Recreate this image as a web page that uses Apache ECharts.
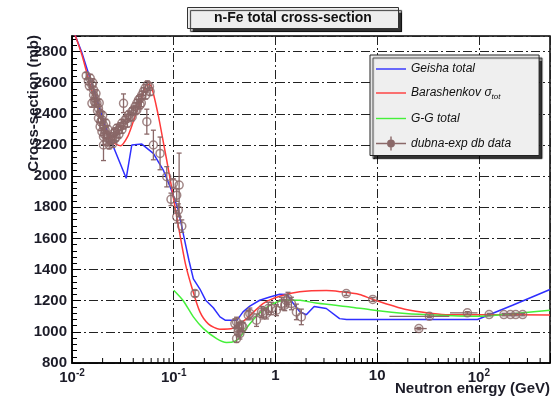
<!DOCTYPE html>
<html>
<head>
<meta charset="utf-8">
<script src="https://cdn.jsdelivr.net/npm/echarts@6.0.0/dist/echarts.min.js"></script>
<style>
  html, body { margin: 0; padding: 0; background: #fff; }
  #chart { width: 551px; height: 401px; }
</style>
</head>
<body>
<div id="chart"></div>
<script>
// Neutron–iron total cross-section: model curves and measured points (E in GeV, sigma in mb)

const geishaE = [0.01, 0.0107, 0.0124, 0.015, 0.018, 0.021, 0.0246, 0.0341, 0.0387, 0.0486, 0.063, 0.079, 0.095, 0.111, 0.125, 0.141, 0.156, 0.181, 0.205, 0.245, 0.285, 0.32, 0.42, 0.48, 0.56, 0.70, 0.88, 1.10, 1.30, 1.43, 1.73, 2.01, 2.40, 3.16, 4.27, 5.0, 97, 214, 500];
const geishaV = [2955, 2907, 2800, 2630, 2470, 2330, 2215, 1986, 2200, 2206, 2146, 2039, 1910, 1782, 1620, 1460, 1340, 1275, 1205, 1155, 1096, 1075, 1075, 1128, 1165, 1203, 1224, 1242, 1240, 1200, 1130, 1110, 1163, 1150, 1085, 1079, 1079, 1171, 1272];

const barashE = [0.01, 0.0125, 0.015, 0.018, 0.021, 0.025, 0.03, 0.035, 0.04, 0.047, 0.055, 0.06, 0.07, 0.08, 0.09, 0.1, 0.113, 0.13, 0.15, 0.181, 0.22, 0.284, 0.38, 0.52, 0.755, 1.1, 1.73, 3.16, 4.3, 6.7, 9.05, 19.2, 35, 51, 100, 500];
const barashV = [2960, 2780, 2590, 2430, 2310, 2220, 2195, 2250, 2350, 2480, 2590, 2580, 2400, 2200, 2020, 1850, 1653, 1440, 1290, 1128, 1050, 1017, 1023, 1085, 1182, 1229, 1257, 1265, 1258, 1240, 1208, 1143, 1118, 1110, 1110, 1108];

const ggE = [0.1, 0.124, 0.156, 0.196, 0.264, 0.33, 0.40, 0.45, 0.52, 0.65, 0.81, 1.02, 1.3, 1.75, 2.5, 3.7, 5.4, 9, 19, 41, 97, 180, 500];
const ggV = [1267, 1200, 1096, 1021, 957, 932, 940, 967, 1025, 1100, 1155, 1190, 1205, 1203, 1185, 1172, 1160, 1140, 1118, 1107, 1100, 1112, 1139];

// measured points: energy, cross-section, symmetric error (mb)
const dubnaE = [
  0.0138, 0.0145, 0.0151, 0.0157, 0.0163, 0.0163, 0.0169, 0.0157, 0.0176, 0.0182,
  0.0189, 0.0182, 0.0197, 0.0204, 0.0189, 0.0212, 0.0197, 0.0220, 0.0204, 0.0229,
  0.0237, 0.0220, 0.0247, 0.0256, 0.0266, 0.0276, 0.0286, 0.0298, 0.0309, 0.0321,
  0.0333, 0.0346, 0.0359, 0.0373, 0.0387, 0.0402, 0.0417, 0.0434, 0.0450, 0.0467,
  0.0486, 0.0504, 0.0523, 0.0551, 0.0577, 0.0586, 0.0467, 0.0434, 0.0321, 0.0204,
  0.0148, 0.0160, 0.0166, 0.0172, 0.0178, 0.0185, 0.0192, 0.0200, 0.0208, 0.0215,
  0.0225, 0.0232, 0.0242, 0.0252, 0.0262, 0.0272, 0.0290, 0.0310, 0.0350, 0.0390,
  0.0420, 0.0480, 0.0530,
  0.0544, 0.0631, 0.0734, 0.0854, 0.0991, 0.113, 0.0940, 0.107, 0.107, 0.111, 0.120,
  0.162,
  0.399, 0.415, 0.430, 0.447, 0.464, 0.415, 0.430, 0.442, 0.481, 0.560, 0.540, 0.651,
  0.729, 0.756, 0.816, 0.850, 0.914, 1.023, 1.145, 1.234, 1.282, 1.329, 1.436, 1.607, 1.798,
  4.97, 9.05
];
const dubnaV = [
  2645, 2610, 2629, 2586, 2554, 2521, 2500, 2468, 2468, 2436,
  2404, 2371, 2361, 2328, 2318, 2296, 2285, 2264, 2253, 2243,
  2232, 2221, 2253, 2275, 2285, 2307, 2296, 2318, 2339, 2328,
  2361, 2371, 2393, 2382, 2414, 2425, 2446, 2468, 2489, 2500,
  2521, 2543, 2564, 2586, 2575, 2543, 2457, 2425, 2468, 2200,
  2580, 2600, 2480, 2530, 2420, 2470, 2350, 2390, 2270, 2340,
  2300, 2200, 2230, 2210, 2240, 2250, 2270, 2300, 2340, 2380,
  2420, 2470, 2520,
  2350, 2200, 2146, 1996, 1953, 1943, 1851, 1878, 1739, 1782, 1679,
  1246,
  1053, 1064, 1021, 989, 1040, 957, 999, 1031, 1031, 1118, 1107, 1075,
  1128, 1118, 1118, 1150, 1150, 1139, 1182, 1171, 1200, 1214, 1182, 1128, 1096,
  1246, 1208
];
const dubnaErr = [
  20, 20, 25, 25, 20, 20, 20, 25, 20, 25,
  20, 25, 20, 25, 25, 20, 25, 25, 50, 25,
  25, 25, 25, 25, 25, 25, 25, 25, 25, 25,
  25, 25, 25, 25, 25, 25, 25, 25, 25, 25,
  25, 25, 25, 25, 25, 25, 25, 25, 60, 100,
  25, 25, 25, 25, 25, 25, 25, 25, 25, 25,
  25, 25, 25, 25, 25, 25, 25, 25, 25, 25,
  25, 25, 25,
  80, 95, 105, 65, 30, 205, 40, 40, 40, 40, 40,
  20,
  30, 30, 35, 35, 30, 25, 30, 30, 30, 35, 30, 40,
  35, 35, 35, 40, 40, 35, 40, 35, 40, 40, 40, 50, 50,
  12, 12
];

// high-energy points with energy-bin widths: energy, cross-section, E low, E high
const binE = [25.7, 32.6, 77, 126, 176, 204, 230, 269];
const binV = [1021, 1100, 1122, 1111, 1111, 1111, 1111, 1111];
const binLo = [23.4, 13.2, 52, 120, 170, 198, 224, 262];
const binHi = [30.7, 51.2, 97, 132, 182, 210, 236, 276];

const xTickLabels = { '-2': ['10', '-2'], '-1': ['10', '-1'], '0': ['1', ''], '1': ['10', ''], '2': ['10', '2'] };

const FONT = '"Liberation Sans", Arial, Helvetica, sans-serif';
const BLUE = '#2f2fff';
const RED = '#ff3a3a';
const GREEN = '#45f03a';
const DATA_COLOR = '#8a6868';
const Y_MIN = 800, Y_MAX = 2900;

const LINE_ICON = 'path://M0,6.3H30V7.7H0Z';
const POINT_ICON = 'path://M0,6.3H11V7.7H0Z M19,6.3H30V7.7H19Z M14.3,0H15.7V3H14.3Z M14.3,11H15.7V14H14.3Z M11,7A4,4 0 1,1 19,7A4,4 0 1,1 11,7Z';

function zip(xs, ys) { return xs.map((x, i) => [x, ys[i]]); }

// rows: [E, sigma, sigma low, sigma high, E low, E high]
const pointRows = dubnaE.map((e, i) => [e, dubnaV[i], dubnaV[i] - dubnaErr[i], dubnaV[i] + dubnaErr[i], e, e])
  .concat(binE.map((e, i) => [e, binV[i], binV[i] - 8, binV[i] + 8, binLo[i], binHi[i]]));

// minor ticks of the logarithmic energy axis: 2..9 times each decade
const minorTicks = [];
for (let k = -2; k <= 2; k++) {
  for (let m = 2; m <= 9; m++) {
    const v = m * Math.pow(10, k);
    if (v < 500) minorTicks.push([v, Y_MIN]);
  }
}

const chart = echarts.init(document.getElementById('chart'), null, { renderer: 'canvas' });

const gridLine = { show: true, lineStyle: { color: '#222', width: 1, type: [9, 3, 2, 3] } };

chart.setOption({
  animation: false,
  backgroundColor: '#fff',
  title: {
    text: 'n-Fe total cross-section',
    left: 187, top: 7,
    padding: [4, 27, 4, 27],
    backgroundColor: '#eeeeee',
    borderColor: '#333', borderWidth: 1,
    shadowColor: 'rgba(0,0,0,0.8)', shadowOffsetX: 3, shadowOffsetY: 3, shadowBlur: 1,
    textStyle: { fontFamily: FONT, fontWeight: 'bold', fontSize: 14, color: '#111' }
  },
  legend: {
    orient: 'vertical',
    left: 370, top: 55,
    padding: [8, 28, 5, 6],
    itemGap: 12, itemWidth: 30, itemHeight: 14,
    selectedMode: false,
    backgroundColor: '#efefef',
    borderColor: '#222', borderWidth: 1,
    shadowColor: 'rgba(0,0,0,0.8)', shadowOffsetX: 3, shadowOffsetY: 3, shadowBlur: 1,
    data: [
      { name: 'Geisha total', icon: LINE_ICON, itemStyle: { color: BLUE, borderWidth: 0 } },
      { name: 'Barashenkov σtot', icon: LINE_ICON, itemStyle: { color: RED, borderWidth: 0 } },
      { name: 'G-G total', icon: LINE_ICON, itemStyle: { color: GREEN, borderWidth: 0 } },
      { name: 'dubna-exp db data', icon: POINT_ICON, itemStyle: { color: DATA_COLOR, borderWidth: 0 } }
    ],
    formatter: name => name === 'Barashenkov σtot' ? 'Barashenkov {sym|σ}{sub|tot}' : name,
    textStyle: {
      fontFamily: FONT, fontStyle: 'italic', fontSize: 12, color: '#111',
      rich: {
        sym: { fontFamily: FONT, fontSize: 12, color: '#111' },
        sub: { fontFamily: FONT, fontStyle: 'italic', fontSize: 8, color: '#111', padding: [7, 0, 0, 0] }
      }
    }
  },
  grid: {
    left: 72, right: 1, top: 36, bottom: 38,
    show: true, borderColor: '#000', borderWidth: 1.5, backgroundColor: '#fff',
    outerBoundsMode: 'none', containLabel: false
  },
  xAxis: {
    type: 'log', logBase: 10, min: 0.01, max: 500,
    axisLine: { show: true, lineStyle: { color: '#000', width: 1.5 } },
    axisTick: { show: true, inside: true, length: 10, lineStyle: { color: '#000', width: 1 } },
    splitLine: gridLine,
    axisLabel: {
      margin: 5,
      formatter: v => {
        const p = Math.log10(v);
        const r = Math.round(p);
        if (Math.abs(p - r) > 1e-6) return '';
        const t = xTickLabels[String(r)];
        if (!t) return '';
        return t[1] ? '{b|' + t[0] + '}{s|' + t[1] + '}' : '{b|' + t[0] + '}';
      },
      rich: {
        b: { fontFamily: FONT, fontWeight: 'bold', fontSize: 15, color: '#1c1c28' },
        s: { fontFamily: FONT, fontWeight: 'bold', fontSize: 10, color: '#1c1c28', padding: [0, 0, 10, 0] }
      }
    }
  },
  yAxis: {
    type: 'value', min: Y_MIN, max: Y_MAX, interval: 200,
    axisLine: { show: true, lineStyle: { color: '#000', width: 1.5 } },
    axisTick: { show: true, inside: true, length: 9, lineStyle: { color: '#000', width: 1 } },
    minorTick: { show: true, splitNumber: 5, length: 5, lineStyle: { color: '#000', width: 1 } },
    splitLine: gridLine,
    axisLabel: {
      margin: 5,
      fontFamily: FONT, fontWeight: 'bold', fontSize: 15, color: '#1c1c28',
      formatter: v => (v > 2850 ? '' : String(v))
    }
  },
  graphic: [
    {
      type: 'text', x: 34, y: 35, rotation: Math.PI / 2,
      style: {
        text: 'Cross-section (mb)', textAlign: 'right', textVerticalAlign: 'middle',
        font: 'bold 15px ' + FONT, fill: '#1c1c28'
      }
    },
    {
      type: 'text', x: 550, y: 389,
      style: {
        text: 'Neutron energy (GeV)', textAlign: 'right', textVerticalAlign: 'middle',
        font: 'bold 15px ' + FONT, fill: '#1c1c28'
      }
    }
  ],
  series: [
    {
      name: 'minor ticks', type: 'custom', silent: true, z: 3,
      data: minorTicks,
      renderItem: (params, api) => {
        const p = api.coord([api.value(0), Y_MIN]);
        return { type: 'line', shape: { x1: p[0], y1: p[1], x2: p[0], y2: p[1] - 5 }, style: { stroke: '#000', lineWidth: 1 } };
      }
    },
    {
      name: 'Geisha total', type: 'line', data: zip(geishaE, geishaV),
      symbol: 'none', smooth: false, z: 2,
      lineStyle: { color: BLUE, width: 1.5 }, itemStyle: { color: BLUE }
    },
    {
      name: 'Barashenkov σtot', type: 'line', data: zip(barashE, barashV),
      symbol: 'none', smooth: 0.25, z: 2,
      lineStyle: { color: RED, width: 1.5 }, itemStyle: { color: RED }
    },
    {
      name: 'G-G total', type: 'line', data: zip(ggE, ggV),
      symbol: 'none', smooth: 0.25, z: 2,
      lineStyle: { color: GREEN, width: 1.5 }, itemStyle: { color: GREEN }
    },
    {
      name: 'dubna-exp db data', type: 'custom', z: 4, silent: true,
      data: pointRows,
      encode: { x: 0, y: 1 },
      renderItem: (params, api) => {
        const e = api.value(0), lo = api.value(2), hi = api.value(3), el = api.value(4), eh = api.value(5), v = api.value(1);
        const st = { stroke: DATA_COLOR, lineWidth: 1.3 };
        const kids = [];
        const a = api.coord([e, lo]), b = api.coord([e, hi]);
        if (Math.abs(a[1] - b[1]) > 1) {
          kids.push({ type: 'line', shape: { x1: a[0], y1: a[1], x2: b[0], y2: b[1] }, style: st });
          kids.push({ type: 'line', shape: { x1: a[0] - 2.5, y1: a[1], x2: a[0] + 2.5, y2: a[1] }, style: st });
          kids.push({ type: 'line', shape: { x1: b[0] - 2.5, y1: b[1], x2: b[0] + 2.5, y2: b[1] }, style: st });
        }
        if (eh > el) {
          const c = api.coord([el, v]), d = api.coord([eh, v]);
          kids.push({ type: 'line', shape: { x1: c[0], y1: c[1], x2: d[0], y2: d[1] }, style: st });
        }
        return { type: 'group', children: kids };
      }
    },
    {
      name: 'dubna-exp db data', type: 'scatter', z: 5,
      data: pointRows.map(r => [r[0], r[1]]),
      symbol: 'circle', symbolSize: 8,
      itemStyle: { color: 'rgba(255,255,255,0)', borderColor: DATA_COLOR, borderWidth: 1.5 }
    }
  ]
});
</script>
</body>
</html>
